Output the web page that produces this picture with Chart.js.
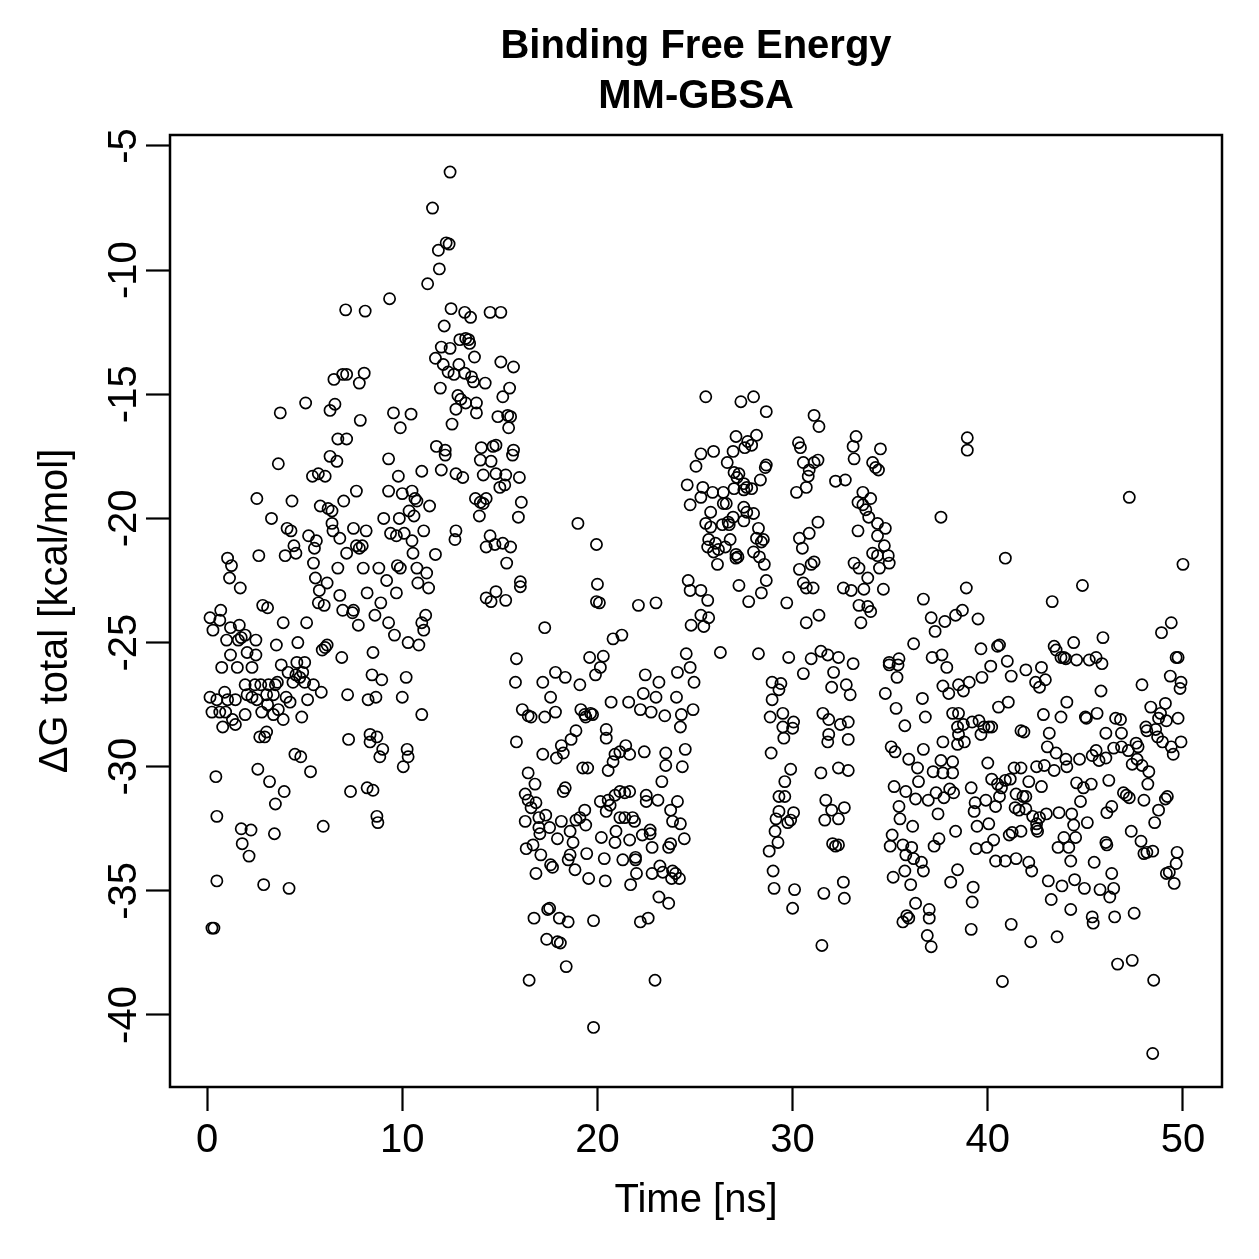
<!DOCTYPE html>
<html>
<head>
<meta charset="utf-8">
<script src="https://cdn.jsdelivr.net/npm/chart.js@4"></script>
<style>
  html, body { margin: 0; padding: 0; background: #fff; }
  #wrap { width: 1259px; height: 1259px; }
</style>
</head>
<body>
<div id="wrap"><canvas id="myChart" width="1259" height="1259"></canvas></div>
<script>
// [time (ns), dG total (kcal/mol)] pairs, grouped by region
const early_top = [[7.1,-11.6],[8.1,-11.65],[9.35,-11.15],[7.15,-14.2],[6.95,-14.2],[6.5,-14.4],[8.05,-14.15],[7.8,-14.55],[5.05,-15.35],[3.75,-15.75],[6.3,-15.65],[6.55,-15.4],[7.85,-16.05],[9.55,-15.75],[10.45,-15.8],[9.9,-16.35],[6.7,-16.8],[7.15,-16.8],[11.3,-10.55]];

const peak = [[11.55,-7.5],[12.45,-6.05],[11.85,-9.2],[12.25,-8.9],[12.4,-8.95],[11.9,-9.95],[12.5,-11.55],[13.2,-11.7],[13.5,-11.9],[14.5,-11.7],[15.05,-11.7],[12.15,-12.25],[12.95,-12.8],[13.25,-12.75],[13.4,-12.8],[13.45,-12.95],[12.0,-13.1],[12.45,-13.15],[11.7,-13.55],[13.7,-13.5],[15.05,-13.7],[15.7,-13.9],[12.1,-13.8],[12.35,-14.1],[12.65,-14.2],[12.9,-13.8],[13.2,-14.15],[13.55,-14.3],[13.65,-14.5],[11.95,-14.75],[14.25,-14.55],[15.5,-14.75],[15.15,-15.1],[12.85,-15.05],[13.0,-15.2],[13.25,-15.35],[13.8,-15.35],[13.8,-15.75],[12.75,-15.6],[12.55,-16.2],[14.9,-15.9],[15.4,-15.85],[15.55,-15.9],[15.45,-16.35],[11.75,-17.1],[12.2,-17.25],[14.05,-17.15],[14.65,-17.1],[14.8,-17.05],[15.7,-17.25]];

const early_mid = [[3.65,-17.8],[5.4,-18.3],[5.7,-18.2],[6.05,-18.3],[6.3,-17.5],[6.65,-17.7],[9.3,-17.6],[9.8,-18.3],[11.0,-18.1],[2.55,-19.2],[4.35,-19.3],[5.8,-19.5],[6.2,-19.6],[6.4,-19.7],[7.0,-19.3],[7.65,-18.9],[9.3,-18.9],[10.0,-19.0],[10.5,-18.9],[10.65,-19.2],[10.75,-19.3],[10.35,-19.7],[10.6,-19.9],[11.4,-19.5],[3.3,-20.0],[4.1,-20.4],[4.3,-20.5],[5.2,-20.7],[5.6,-20.9],[5.5,-21.2],[6.4,-20.2],[6.45,-20.5],[6.8,-20.8],[7.5,-20.4],[8.15,-20.5],[7.65,-21.1],[7.95,-21.1],[7.8,-21.2],[7.15,-21.4],[9.05,-20.0],[9.85,-20.0],[9.4,-20.6],[9.7,-20.7],[10.1,-20.6],[10.5,-20.9],[10.55,-21.4],[11.1,-20.5],[1.05,-21.6],[1.25,-21.9],[1.15,-22.4],[1.7,-22.8],[2.65,-21.5],[4.0,-21.5],[4.55,-21.4],[4.45,-21.1],[5.45,-21.8],[5.55,-22.4],[6.15,-22.6],[6.7,-22.0],[8.0,-22.0],[8.8,-22.0],[5.75,-22.9],[5.7,-23.4],[6.0,-23.5],[6.8,-23.1],[6.95,-23.7],[7.45,-23.8],[7.5,-23.7],[7.75,-24.3],[8.2,-23.0],[8.9,-23.4],[9.2,-22.5],[9.7,-23.0],[8.6,-23.9],[9.3,-24.2],[9.6,-24.7],[9.75,-21.9],[9.9,-22.0],[10.75,-22.0],[11.25,-22.2],[10.8,-22.6],[11.35,-22.8],[11.2,-23.9],[11.0,-24.2],[11.1,-24.5],[10.3,-25.0],[10.85,-25.1],[2.85,-23.5],[3.1,-23.6],[3.9,-24.2],[5.1,-24.2],[0.15,-24.0],[0.7,-23.7],[0.3,-24.5],[0.65,-24.1],[1.2,-24.4],[1.65,-24.3],[1.75,-24.8],[1.95,-24.7],[2.5,-24.9],[1.6,-24.9],[1.0,-24.9],[1.2,-25.5],[2.05,-25.4],[2.5,-25.5],[3.55,-25.1],[4.65,-25.0],[0.75,-26.0],[1.55,-26.0],[2.3,-26.0],[3.8,-25.9],[4.15,-26.2],[4.6,-25.8],[5.0,-25.8],[4.55,-26.3],[4.9,-26.2],[4.75,-26.4],[5.0,-26.6],[4.4,-26.6],[5.9,-25.3],[6.15,-25.1],[6.05,-25.2],[6.9,-25.6],[8.5,-25.4],[8.45,-26.3],[8.95,-26.5],[10.2,-26.4],[5.45,-26.7],[5.85,-27.0],[7.2,-27.1],[8.25,-27.3],[8.65,-27.2],[10.0,-27.2],[11.0,-27.9],[1.95,-26.7],[2.45,-26.7],[2.75,-26.7],[3.15,-26.7],[3.5,-26.7],[3.6,-26.6],[0.15,-27.2],[0.5,-27.3],[0.9,-27.0],[1.05,-27.3],[1.45,-27.3],[2.05,-27.1],[2.3,-27.2],[2.55,-27.3],[3.05,-27.1],[3.4,-27.1],[0.25,-27.8],[0.65,-27.8],[0.95,-27.8],[1.3,-28.1],[0.8,-28.4],[1.45,-28.3],[1.95,-27.9],[2.8,-27.8],[3.1,-27.5],[3.4,-27.9],[3.65,-27.7],[3.9,-28.1],[4.05,-27.2],[4.25,-27.4],[4.85,-28.0],[5.15,-27.3],[2.7,-28.8],[3.05,-28.6],[2.95,-28.8],[7.25,-28.9],[8.35,-28.7],[8.7,-28.8],[8.35,-29.0],[9.0,-29.3],[8.85,-29.6],[10.25,-29.3],[10.3,-29.6],[10.05,-30.0],[4.5,-29.5],[4.8,-29.6],[2.6,-30.1],[5.3,-30.2],[0.45,-30.4]];

const early_low = [[3.2,-30.6],[3.95,-31.0],[3.5,-31.5],[7.35,-31.0],[8.2,-30.85],[8.5,-30.95],[8.7,-32.0],[8.75,-32.25],[0.5,-32.0],[1.75,-32.5],[2.25,-32.55],[1.8,-33.1],[2.15,-33.6],[3.45,-32.7],[5.95,-32.4],[0.5,-34.6],[2.9,-34.75],[4.2,-34.9],[0.25,-36.5],[0.35,-36.5]];

const middle_a = [[12.2,-17.45],[14.0,-17.65],[14.55,-17.7],[15.65,-17.45],[12.0,-18.05],[12.75,-18.2],[13.1,-18.35],[14.15,-18.25],[14.8,-18.2],[15.3,-18.25],[16.0,-18.35],[15.0,-18.75],[15.25,-18.65],[13.75,-19.2],[14.0,-19.35],[14.3,-19.2],[14.15,-19.4],[16.1,-19.35],[13.95,-19.9],[15.95,-19.95],[19.0,-20.2],[19.95,-21.05],[12.75,-20.5],[12.7,-20.85],[14.5,-20.7],[14.3,-21.15],[14.75,-21.05],[15.15,-21.0],[15.55,-21.15],[15.35,-21.8],[11.7,-21.45],[16.05,-22.55],[16.05,-22.75],[14.3,-23.2],[14.55,-23.35],[14.8,-22.95],[15.3,-23.3],[20.0,-22.65],[19.95,-23.35],[20.1,-23.4],[22.1,-23.5],[23.0,-23.4],[24.6,-18.65],[24.75,-19.45],[25.05,-17.9],[24.65,-22.5],[24.75,-22.9],[24.8,-24.3],[17.3,-24.4],[21.25,-24.7],[20.8,-24.85],[24.55,-25.45],[24.1,-26.2],[24.75,-26.0],[15.85,-25.65],[15.8,-26.6],[17.2,-26.6],[17.85,-26.2],[18.35,-26.4],[19.1,-26.7],[19.6,-25.6],[20.3,-25.55],[20.15,-26.0],[19.9,-26.3],[22.45,-26.3],[23.15,-26.6],[22.35,-27.05],[23.0,-27.2],[24.05,-27.2],[24.95,-26.6],[20.7,-27.4],[21.6,-27.4],[22.2,-27.7],[22.75,-27.8],[23.45,-27.95],[24.3,-27.9],[24.25,-28.4],[24.9,-27.7],[17.6,-27.2],[17.85,-27.8],[17.3,-28.0],[16.6,-28.0],[16.45,-27.95],[16.15,-27.7],[19.15,-27.7],[19.4,-28.0],[19.65,-27.85],[19.75,-27.9],[19.35,-27.9],[18.9,-28.55],[18.65,-28.9],[18.15,-29.15],[18.25,-29.45],[17.9,-29.65],[17.2,-29.5],[20.45,-28.5],[20.45,-28.85],[15.85,-29.0],[20.9,-29.5],[21.15,-29.4],[21.45,-29.15],[21.65,-29.5],[22.4,-29.4],[20.8,-29.8],[23.5,-29.45],[23.5,-29.95],[24.5,-29.3],[24.35,-30.0],[19.25,-30.05],[19.5,-30.05],[20.55,-30.15],[16.45,-30.25]];

const middle_b = [[16.8,-30.7],[16.3,-31.1],[16.45,-31.35],[16.85,-31.45],[16.6,-31.65],[16.3,-32.2],[17.0,-32.05],[17.35,-31.95],[16.7,-33.15],[16.35,-33.3],[17.0,-32.45],[17.05,-32.7],[17.55,-32.45],[17.1,-33.55],[16.85,-34.3],[17.6,-33.95],[17.7,-34.05],[18.35,-30.85],[18.25,-31.0],[18.15,-32.2],[18.6,-32.6],[18.75,-33.05],[17.95,-32.9],[18.9,-32.15],[19.1,-32.05],[19.35,-31.75],[19.4,-32.35],[18.6,-33.55],[18.5,-33.75],[18.85,-34.15],[19.45,-33.5],[20.15,-31.4],[20.55,-31.35],[20.65,-31.55],[20.9,-31.15],[21.15,-31.0],[21.4,-31.05],[21.65,-31.0],[20.45,-31.8],[21.15,-32.05],[21.4,-32.05],[21.8,-32.05],[21.9,-32.2],[20.2,-32.85],[20.9,-33.05],[20.95,-32.6],[21.65,-32.95],[20.35,-33.7],[21.3,-33.75],[21.95,-33.65],[21.95,-33.75],[22.0,-34.3],[21.7,-34.75],[19.55,-34.5],[20.4,-34.6],[22.5,-31.15],[22.5,-31.4],[23.1,-31.35],[23.3,-30.6],[23.75,-31.75],[24.1,-31.4],[23.85,-32.2],[24.25,-32.3],[24.45,-32.9],[23.75,-33.1],[23.65,-33.25],[22.3,-32.75],[22.7,-32.7],[22.7,-32.55],[22.8,-33.25],[22.8,-34.3],[23.2,-34.0],[23.35,-34.25],[23.85,-34.2],[24.0,-34.3],[24.2,-34.5],[23.8,-34.5],[23.15,-35.25],[23.65,-35.5],[17.45,-35.75],[17.55,-35.7],[16.75,-36.1],[18.05,-36.1],[18.5,-36.25],[19.8,-36.2],[22.2,-36.25],[22.6,-36.1],[17.4,-36.95],[17.95,-37.05],[18.1,-37.1],[18.4,-38.05],[16.5,-38.6],[22.95,-38.6],[19.8,-40.5]];

const late_top = [[25.55,-15.1],[27.35,-15.3],[28.0,-15.1],[28.65,-15.7],[31.1,-15.85],[31.35,-16.3],[33.25,-16.7],[33.1,-17.1],[34.5,-17.2],[27.1,-16.7],[27.7,-16.9],[27.9,-17.05],[28.15,-16.65],[27.55,-17.15],[26.95,-17.3],[25.3,-17.4],[25.95,-17.3],[30.3,-16.95],[30.4,-17.15],[38.95,-16.75],[38.95,-17.25],[26.65,-17.75],[27.0,-18.15],[27.25,-18.2],[27.15,-18.35],[27.5,-18.6],[27.65,-18.75],[27.9,-18.8],[28.35,-18.45],[28.6,-17.95],[28.65,-17.85],[25.4,-18.75],[25.9,-18.95],[25.3,-19.15],[26.45,-18.95],[26.45,-19.4],[26.6,-19.4],[27.5,-18.85],[27.0,-18.8],[25.8,-19.75],[25.55,-20.2],[25.8,-20.35],[26.4,-20.25],[26.7,-20.15],[26.75,-20.25],[26.95,-19.95],[27.5,-19.55],[27.65,-19.75],[28.0,-19.8],[27.5,-20.1],[28.25,-20.4],[28.15,-20.8],[28.5,-20.85],[28.4,-20.95],[28.0,-21.35],[28.3,-21.55],[28.55,-21.85],[28.65,-22.5],[25.3,-22.9],[25.65,-23.3],[25.3,-23.9],[25.7,-24.0],[25.45,-24.35],[25.7,-20.85],[26.05,-21.0],[26.2,-21.25],[26.55,-21.15],[26.8,-20.85],[25.65,-21.15],[25.95,-21.35],[26.15,-21.85],[27.1,-21.45],[27.2,-21.55],[27.1,-21.6],[27.25,-22.7],[28.4,-23.0],[27.75,-23.35],[26.3,-25.4],[28.25,-25.45],[29.7,-23.4],[30.55,-17.75],[30.85,-18.05],[31.1,-17.75],[31.3,-17.65],[30.8,-18.3],[30.7,-18.75],[30.2,-18.95],[31.3,-20.15],[30.85,-20.6],[30.35,-20.8],[30.5,-21.2],[30.35,-22.05],[30.95,-21.85],[31.1,-21.75],[30.55,-22.6],[30.7,-22.8],[31.05,-22.8],[31.35,-23.9],[30.7,-24.2],[32.2,-18.5],[32.7,-18.45],[33.15,-17.6],[34.1,-17.75],[34.25,-17.95],[34.4,-18.05],[33.6,-18.95],[34.0,-19.2],[33.35,-19.35],[33.6,-19.45],[33.75,-19.65],[33.9,-19.95],[34.35,-20.2],[34.75,-20.4],[33.35,-20.5],[34.35,-20.7],[34.7,-21.1],[34.1,-21.4],[34.35,-21.5],[34.9,-21.5],[34.95,-21.8],[34.45,-22.0],[33.15,-21.8],[33.4,-22.0],[33.85,-22.4],[32.6,-22.8],[33.0,-22.9],[33.65,-22.85],[34.65,-22.85],[33.4,-23.5],[33.85,-23.55],[34.0,-23.75],[33.5,-24.2],[37.6,-19.95],[36.7,-23.25],[37.1,-24.0],[37.8,-24.15],[37.3,-24.55],[38.35,-23.9]];

const late_low = [[36.2,-25.05],[37.15,-25.6],[37.65,-25.5],[37.9,-26.0],[34.95,-25.8],[34.95,-25.9],[35.45,-25.65],[35.4,-25.9],[35.35,-26.4],[34.75,-27.05],[35.3,-27.65],[35.75,-28.35],[36.65,-27.25],[36.8,-28.0],[37.7,-26.75],[38.0,-27.05],[38.2,-27.85],[38.5,-26.7],[35.05,-29.2],[35.25,-29.4],[35.95,-29.7],[36.4,-30.05],[36.7,-29.3],[37.7,-29.0],[37.6,-29.75],[38.2,-29.8],[37.2,-30.2],[37.7,-30.25],[38.2,-30.25],[38.45,-29.1],[38.45,-28.4],[29.8,-25.6],[30.95,-25.65],[31.45,-25.35],[31.8,-25.5],[32.35,-25.6],[33.1,-25.85],[30.55,-26.25],[32.1,-26.2],[28.95,-26.6],[29.4,-26.65],[29.3,-26.9],[28.95,-27.3],[28.85,-28.0],[29.5,-27.85],[29.5,-28.4],[30.05,-28.2],[30.0,-28.45],[29.55,-28.85],[32.0,-26.8],[32.75,-26.7],[32.95,-27.1],[31.55,-27.85],[31.85,-28.1],[32.45,-28.3],[32.85,-28.2],[31.85,-28.7],[31.8,-29.0],[32.85,-28.9],[28.9,-29.45],[29.9,-30.1],[31.45,-30.25],[32.35,-30.05],[32.85,-30.15],[29.6,-30.6],[29.3,-31.2],[29.6,-31.2],[29.3,-31.8],[29.15,-32.1],[30.05,-31.85],[29.9,-32.15],[29.75,-32.25],[29.1,-32.6],[29.25,-33.05],[28.8,-33.4],[29.0,-34.2],[29.05,-34.9],[30.1,-34.95],[30.0,-35.7],[31.7,-31.35],[32.0,-31.75],[32.65,-31.65],[31.65,-32.15],[32.35,-32.1],[32.05,-33.1],[32.2,-33.2],[32.35,-33.15],[32.6,-34.65],[32.65,-35.3],[31.6,-35.1],[31.5,-37.2],[35.2,-30.8],[35.8,-31.0],[35.45,-31.6],[35.5,-32.1],[36.15,-32.4],[35.1,-32.75],[35.0,-33.2],[35.65,-33.15],[36.1,-33.25],[35.8,-33.55],[36.2,-33.7],[36.6,-33.85],[36.7,-34.2],[35.75,-34.2],[35.15,-34.45],[36.05,-34.75],[36.3,-35.5],[37.0,-35.75],[37.0,-36.1],[35.65,-36.25],[35.95,-36.1],[35.85,-36.0],[36.9,-36.8],[37.1,-37.25],[36.45,-30.6],[37.35,-31.05],[37.75,-31.25],[38.05,-30.9],[38.25,-31.05],[36.3,-31.3],[36.95,-31.35],[37.45,-31.9],[38.35,-32.6],[37.5,-32.9],[37.25,-33.2],[38.1,-34.65],[38.45,-34.15]];

const end_top = [[47.25,-19.15],[40.9,-21.6],[50.0,-21.85],[38.9,-22.8],[44.85,-22.7],[43.3,-23.35],[38.7,-23.7],[39.5,-24.05],[49.4,-24.2],[48.9,-24.6],[45.9,-24.8],[44.4,-25.0],[39.65,-25.25],[40.5,-25.15],[40.6,-25.1],[41.0,-25.75],[43.4,-25.15],[43.5,-25.3],[43.75,-25.6],[43.9,-25.6],[44.0,-25.65],[44.55,-25.7],[45.2,-25.7],[45.55,-25.6],[45.85,-25.85],[49.65,-25.6],[49.75,-25.6],[49.35,-26.35],[49.9,-26.6],[49.85,-26.85],[47.9,-26.7],[40.15,-25.95],[41.2,-26.35],[39.7,-26.4],[39.05,-26.6],[38.75,-26.95],[41.95,-26.1],[42.75,-26.0],[42.95,-26.5],[42.45,-26.6],[42.65,-26.8],[45.8,-26.95],[41.05,-27.4],[40.55,-27.6],[44.05,-27.4],[42.85,-27.9],[43.75,-28.0],[45.05,-28.05],[45.0,-28.0],[45.6,-27.85],[46.05,-28.65],[46.55,-28.05],[46.8,-28.1],[46.85,-28.65],[43.15,-28.65],[43.05,-29.2],[43.5,-29.45],[44.0,-29.7],[38.5,-27.85],[38.75,-28.3],[39.2,-28.2],[39.55,-28.15],[39.8,-28.4],[39.65,-28.7],[40.05,-28.4],[40.2,-28.4],[38.5,-28.7],[38.8,-29.0],[41.7,-28.55],[41.85,-28.6],[40.0,-29.85],[41.35,-30.05],[41.7,-30.05],[42.5,-30.0],[42.9,-29.95],[43.4,-30.15],[44.05,-30.0],[44.7,-29.7],[45.35,-29.55],[45.55,-29.35],[45.7,-29.75],[46.05,-29.65],[46.45,-29.25],[46.85,-29.2],[47.2,-29.35],[47.6,-29.05],[47.7,-29.2],[47.65,-29.7],[47.4,-29.9],[47.9,-29.95],[48.25,-30.2],[48.1,-28.4],[48.15,-28.55],[48.35,-27.6],[48.75,-28.05],[49.1,-27.45],[48.85,-27.85],[49.15,-28.15],[49.75,-28.05],[48.7,-28.8],[48.95,-29.0],[49.4,-29.2],[49.5,-29.5],[49.9,-29.0],[48.6,-28.5]];

const end_low = [[39.15,-30.85],[39.35,-31.45],[39.3,-31.8],[39.9,-31.35],[40.4,-31.6],[39.45,-32.4],[40.05,-32.3],[40.3,-32.95],[39.95,-33.25],[39.4,-33.3],[40.4,-33.8],[40.9,-33.8],[41.45,-33.7],[42.1,-33.85],[42.25,-34.2],[39.25,-34.85],[39.2,-35.45],[39.15,-36.55],[41.2,-36.35],[42.2,-37.05],[43.55,-36.85],[40.75,-38.65],[40.2,-30.5],[40.5,-30.7],[40.9,-30.55],[41.15,-30.5],[40.7,-30.85],[40.6,-31.2],[41.45,-31.1],[41.8,-31.2],[41.95,-31.2],[42.1,-30.6],[42.75,-30.8],[41.4,-31.65],[41.6,-31.75],[41.95,-31.7],[42.3,-32.0],[42.65,-32.05],[43.0,-31.9],[42.5,-32.3],[42.55,-32.6],[42.5,-32.5],[41.1,-32.75],[41.25,-32.65],[41.7,-32.6],[43.65,-31.85],[44.3,-31.9],[44.4,-32.35],[43.9,-32.85],[43.6,-33.25],[44.15,-33.25],[44.5,-32.85],[44.25,-33.8],[43.1,-34.6],[43.8,-34.8],[44.45,-34.55],[44.95,-34.9],[43.25,-35.35],[44.25,-35.75],[44.55,-30.65],[44.9,-30.85],[45.3,-30.7],[44.75,-31.4],[45.1,-32.25],[45.45,-33.85],[45.35,-36.05],[45.4,-36.3],[46.5,-36.05],[46.35,-34.3],[46.45,-34.9],[46.25,-35.25],[45.75,-34.95],[46.2,-30.55],[46.1,-31.85],[46.35,-31.6],[46.05,-33.05],[46.1,-33.15],[47.1,-31.15],[46.95,-31.05],[47.25,-31.25],[48.0,-31.35],[48.2,-30.7],[47.35,-32.6],[47.85,-33.0],[48.0,-33.5],[48.15,-33.45],[48.45,-33.4],[48.55,-32.25],[48.75,-31.75],[49.1,-31.3],[49.2,-31.2],[49.7,-33.45],[49.65,-33.9],[49.15,-34.3],[49.3,-34.25],[49.55,-34.7],[47.5,-35.9],[46.65,-37.95],[47.4,-37.8],[48.5,-38.6],[48.45,-41.55]];

const xTicksStep = 10;
const yTicksStep = 5;

const allPoints = [].concat(early_top, peak, early_mid, early_low, middle_a, middle_b, late_top, late_low, end_top, end_low)
  .map(p => ({ x: p[0], y: p[1] }));

const fam = '"Liberation Sans", Arial, Helvetica, sans-serif';

// box around the plot region, like R's box()
const boxPlugin = {
  id: 'box',
  afterDraw(chart) {
    const a = chart.chartArea;
    const c = chart.ctx;
    c.save();
    c.strokeStyle = '#000';
    c.lineWidth = 2.5;
    c.strokeRect(a.left, a.top, a.right - a.left, a.bottom - a.top);
    c.restore();
  }
};

const ctx = document.getElementById('myChart');
new Chart(ctx, {
  type: 'scatter',
  data: {
    datasets: [{
      data: allPoints,
      pointStyle: 'circle',
      pointRadius: 5.6,
      borderWidth: 1.7,
      borderColor: '#000',
      backgroundColor: 'rgba(0,0,0,0)'
    }]
  },
  options: {
    responsive: false,
    animation: false,
    devicePixelRatio: 1,
    layout: { padding: { top: 0, right: 37, bottom: 0, left: 0 } },
    plugins: {
      legend: { display: false },
      tooltip: { enabled: false },
      title: {
        display: true,
        fullSize: false,
        text: ['Binding Free Energy', 'MM-GBSA'],
        color: '#000',
        font: { family: fam, size: 40, weight: 'bold', lineHeight: 1.25 },
        padding: { top: 22, bottom: 13 }
      }
    },
    scales: {
      x: {
        type: 'linear',
        min: -1.9,
        max: 52,
        afterFit(s) { s.height = 172; },
        border: { display: false },
        grid: { drawOnChartArea: false, drawTicks: true, tickLength: 24, tickWidth: 2.2, tickColor: '#000' },
        ticks: { stepSize: xTicksStep, includeBounds: false, maxRotation: 0, color: '#000', padding: 6,
                 font: { family: fam, size: 40 } },
        title: { display: true, text: 'Time [ns]', color: '#000', font: { family: fam, size: 40 },
                 padding: { top: 0, bottom: 34 } }
      },
      y: {
        type: 'linear',
        min: -42.9,
        max: -4.557,
        afterFit(s) { s.width = 170; },
        border: { display: false },
        grid: { drawOnChartArea: false, drawTicks: true, tickLength: 24, tickWidth: 2.2, tickColor: '#000' },
        ticks: { stepSize: yTicksStep, includeBounds: false, minRotation: 90, maxRotation: 90, crossAlign: 'center',
                 color: '#000', padding: -8, font: { family: fam, size: 40 } },
        title: { display: true, text: 'ΔG total [kcal/mol]', color: '#000', font: { family: fam, size: 40 },
                 padding: { top: 32, bottom: 0 } }
      }
    }
  },
  plugins: [boxPlugin]
});
</script>
</body>
</html>
